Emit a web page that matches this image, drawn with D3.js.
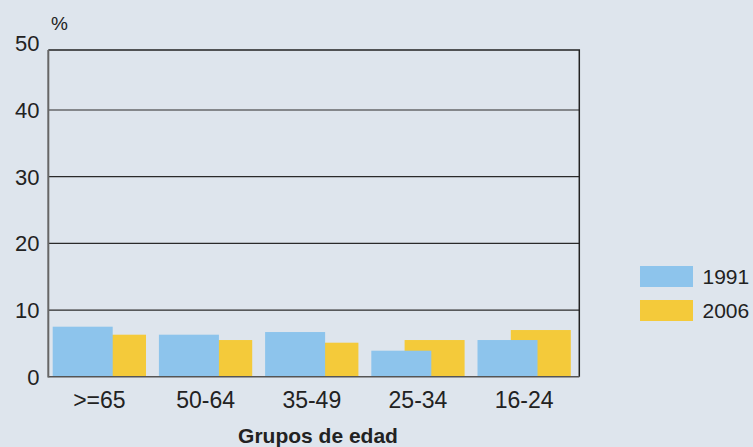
<!DOCTYPE html>
<html><head><meta charset="utf-8">
<script src="https://cdn.jsdelivr.net/npm/d3@7"></script>
<style>body{margin:0;background:#dee5ed}svg{display:block}text{font-family:"Liberation Sans",Arial,sans-serif;fill:#222}</style>
</head><body>
<svg id="c" width="753" height="447"></svg>
<script>
const categories = [">=65", "50-64", "35-49", "25-34", "16-24"];
const series1991 = [7.5, 6.3, 6.7, 3.9, 5.5];
const series2006 = [6.3, 5.5, 5.1, 5.5, 7.0];
const seriesNames = ["1991", "2006"];
const yTicks = [0, 10, 20, 30, 40, 50];
const colors = {"1991": "#8dc4ec", "2006": "#f4ca3a"};

const svg = d3.select("#c");
svg.append("rect").attr("width", 753).attr("height", 447).attr("fill", "#dee5ed");

const L = 48.3, R = 579.3, B = 376.7;
const x = d3.scaleBand().domain(categories).range([L, R]).padding(0);
const y = d3.scaleLinear().domain([0, 50]).range([B, B - 50 * 6.667]);
const frameTop = y(49);
const bw = x.bandwidth();

// gridlines
svg.append("g").selectAll("line").data(yTicks.filter(v => v > 0 && v < 50)).join("line")
  .attr("x1", L).attr("x2", R).attr("y1", d => y(d)).attr("y2", d => y(d))
  .attr("stroke", "#2a2a2a").attr("stroke-width", 1.2);

// bars: 2006 behind, 1991 in front
svg.append("g").selectAll("rect").data(categories).join("rect")
  .attr("x", d => x(d) + bw * 0.355).attr("width", bw * 0.565)
  .attr("y", (d, i) => y(series2006[i])).attr("height", (d, i) => B - y(series2006[i]))
  .attr("fill", colors["2006"]);
svg.append("g").selectAll("rect").data(categories).join("rect")
  .attr("x", d => x(d) + bw * 0.0415).attr("width", bw * 0.565)
  .attr("y", (d, i) => y(series1991[i])).attr("height", (d, i) => B - y(series1991[i]))
  .attr("fill", colors["1991"]);

// frame
svg.append("path").attr("d", `M${L},${frameTop}H${R}V${B}`).attr("fill", "none")
  .attr("stroke", "#222").attr("stroke-width", 1.5);
svg.append("line").attr("x1", L).attr("x2", R).attr("y1", B).attr("y2", B)
  .attr("stroke", "#555").attr("stroke-width", 1.5);
svg.append("line").attr("x1", L).attr("x2", L).attr("y1", frameTop).attr("y2", B + 0.7)
  .attr("stroke", "#666").attr("stroke-width", 2);

// y tick labels
svg.append("g").selectAll("text").data(yTicks).join("text")
  .attr("x", 39.5).attr("y", d => y(d)).attr("dy", "0.36em").attr("text-anchor", "end")
  .attr("font-size", 22).text(d => d);
svg.append("text").attr("x", 51).attr("y", 30).attr("font-size", 19).text("%");

// x labels
svg.append("g").selectAll("text").data(categories).join("text")
  .attr("x", d => x(d) + bw / 2 - 2).attr("y", 408).attr("text-anchor", "middle")
  .attr("font-size", 23).text(d => d);
svg.append("text").attr("x", 318).attr("y", 443).attr("text-anchor", "middle")
  .attr("font-size", 21).attr("font-weight", "bold").text("Grupos de edad");

// legend
const lg = svg.append("g").selectAll("g").data(seriesNames).join("g")
  .attr("transform", (d, i) => `translate(640,${266 + i * 34})`);
lg.append("rect").attr("width", 53).attr("height", 21).attr("fill", d => colors[d]);
lg.append("text").attr("x", 62.5).attr("y", 10.5).attr("dy", "0.36em").attr("font-size", 21).text(d => d);
</script>
</body></html>
